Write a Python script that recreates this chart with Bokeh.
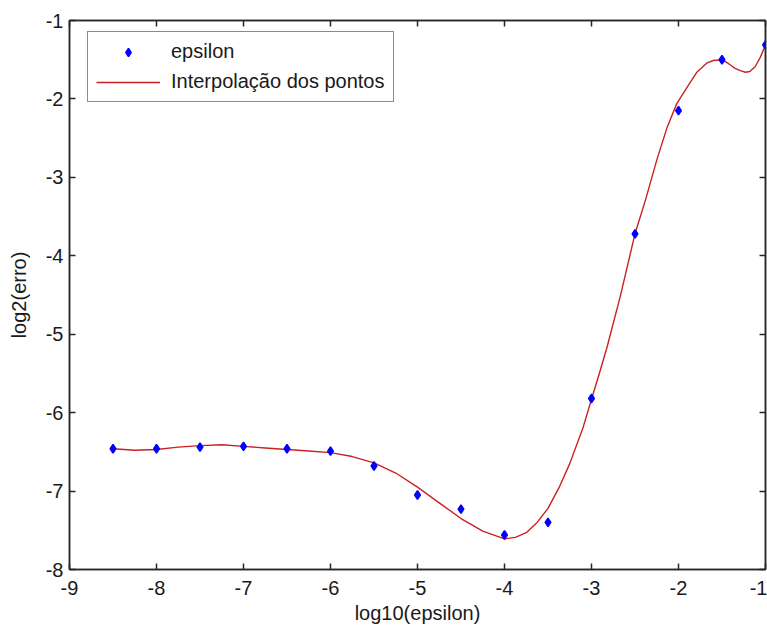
from bokeh.plotting import figure
from bokeh.models import (Range1d, LinearAxis, FixedTicker, Legend, LegendItem)
from bokeh.embed import file_html
from bokeh.resources import INLINE

# Measured points: log10(epsilon) vs log2(erro)
log_eps = [-8.5, -8.0, -7.5, -7.0, -6.5, -6.0, -5.5, -5.0,
           -4.5, -4.0, -3.5, -3.0, -2.5, -2.0, -1.5, -1.0]
log_err = [-6.46, -6.46, -6.44, -6.43, -6.46, -6.49, -6.68, -7.05,
           -7.23, -7.56, -7.40, -5.82, -3.72, -2.15, -1.50, -1.31]

# Interpolating curve through the points
curve_x = [-8.5, -8.25, -8.0, -7.75, -7.5, -7.25, -7.0, -6.75, -6.5, -6.25,
           -6.0, -5.75, -5.5, -5.25, -5.0, -4.75, -4.5, -4.25, -4.0, -3.875,
           -3.75, -3.625, -3.5, -3.375, -3.25, -3.1, -3.0, -2.91, -2.82, -2.67,
           -2.5, -2.38, -2.25, -2.13, -2.02, -1.9, -1.79, -1.67, -1.6, -1.51,
           -1.45, -1.4, -1.35, -1.29, -1.23, -1.18, -1.12, -1.06, -1.0]
curve_y = [-6.46, -6.48, -6.47, -6.44, -6.42, -6.41, -6.43, -6.45, -6.47, -6.49,
           -6.51, -6.56, -6.64, -6.77, -6.95, -7.15, -7.35, -7.51, -7.61, -7.59,
           -7.53, -7.40, -7.22, -6.96, -6.65, -6.20, -5.83, -5.50, -5.16, -4.52,
           -3.72, -3.29, -2.78, -2.36, -2.06, -1.85, -1.66, -1.54, -1.51, -1.50,
           -1.53, -1.57, -1.61, -1.64, -1.66, -1.65, -1.59, -1.47, -1.31]

x_ticks = [-9, -8, -7, -6, -5, -4, -3, -2, -1]
x_tick_labels = ["-9", "-8", "-7", "-6", "-5", "-4", "-3", "-2", "-1"]
y_ticks = [-8, -7, -6, -5, -4, -3, -2, -1]
y_tick_labels = ["-8", "-7", "-6", "-5", "-4", "-3", "-2", "-1"]

FONT = "Liberation Sans"
AX_COLOR = "#262626"

p = figure(width=767, height=630, output_backend="svg", toolbar_location=None,
           x_range=Range1d(-9, -1), y_range=Range1d(-8, -1),
           min_border_left=69, min_border_right=2, min_border_top=20,
           min_border_bottom=61, background_fill_color="white",
           border_fill_color="white")
p.grid.visible = False
p.outline_line_color = AX_COLOR
p.outline_line_width = 1.5

def style_axis(ax, ticks, labels, show_labels=True):
    ax.ticker = FixedTicker(ticks=ticks)
    ax.major_tick_in = 6
    ax.major_tick_out = 0
    ax.minor_tick_in = 0
    ax.minor_tick_out = 0
    ax.axis_line_color = AX_COLOR
    ax.axis_line_width = 1.5
    ax.major_tick_line_color = AX_COLOR
    ax.major_tick_line_width = 1.5
    ax.major_label_text_font = FONT
    ax.major_label_text_color = "#1a1a1a"
    if show_labels:
        ax.major_label_overrides = {t: l for t, l in zip(ticks, labels)}
        ax.major_label_text_font_size = "20px"
    else:
        # box axes: ticks only
        ax.major_label_overrides = {t: "" for t in ticks}
        ax.major_label_text_font_size = "1px"
        ax.major_label_standoff = 0

style_axis(p.xaxis[0], x_ticks, x_tick_labels)
style_axis(p.yaxis[0], y_ticks, y_tick_labels)
p.xaxis[0].major_label_standoff = 11
p.yaxis[0].major_label_standoff = 6

p.xaxis[0].axis_label = "log10(epsilon)"
p.yaxis[0].axis_label = "log2(erro)"
for ax in (p.xaxis[0], p.yaxis[0]):
    ax.axis_label_text_font = FONT
    ax.axis_label_text_font_size = "20px"
    ax.axis_label_text_font_style = "normal"
    ax.axis_label_text_color = "#1a1a1a"
p.xaxis[0].axis_label_standoff = 4
p.yaxis[0].axis_label_standoff = 13

top_ax = LinearAxis()
style_axis(top_ax, x_ticks, x_tick_labels, show_labels=False)
p.add_layout(top_ax, "above")
right_ax = LinearAxis()
style_axis(right_ax, y_ticks, y_tick_labels, show_labels=False)
p.add_layout(right_ax, "right")

curve = p.line(curve_x, curve_y, line_color="#cc2020", line_width=1.4,
               line_join="round")
pts = p.scatter(log_eps, log_err, marker="diamond", size=8.5,
                fill_color="#0000ff", line_color="#0000ff", line_width=1.5)

legend = Legend(items=[LegendItem(label="epsilon", renderers=[pts]),
                       LegendItem(label="Interpolação dos pontos", renderers=[curve])],
                location=(18, 467), orientation="vertical",
                label_text_font=FONT, label_text_font_size="20px",
                label_text_color="#1a1a1a",
                glyph_width=64, glyph_height=20, label_height=20,
                spacing=7, padding=8, label_standoff=11, margin=0,
                border_line_color="#1a1a1a", border_line_width=1.2,
                background_fill_color="white", background_fill_alpha=1)
p.add_layout(legend, "center")

open("out.html", "w").write(file_html(p, INLINE))
